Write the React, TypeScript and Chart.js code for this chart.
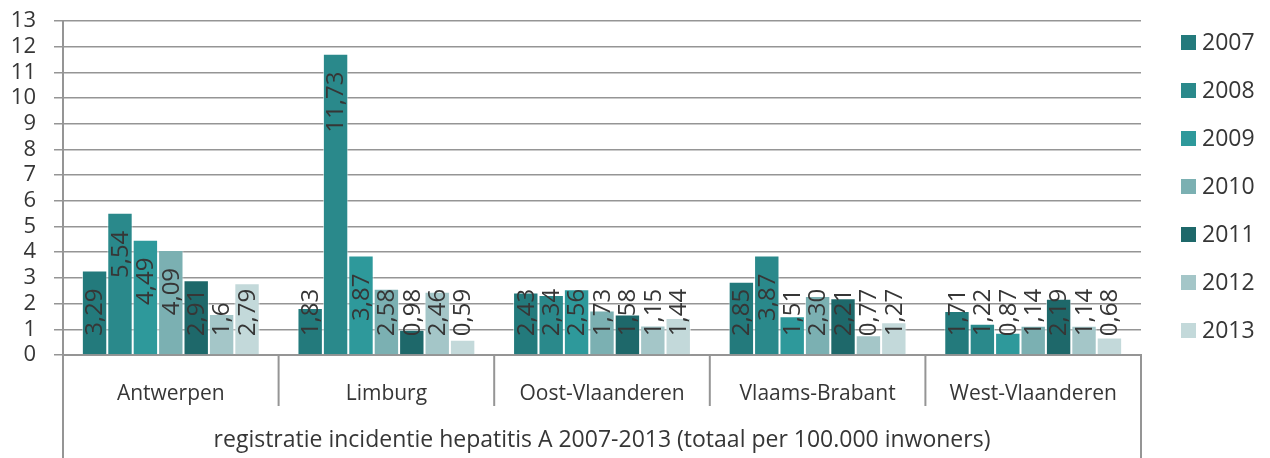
import React, { useEffect, useRef } from 'react';
import { Chart, registerables } from 'chart.js';

Chart.register(...registerables);

// ---- data ----
const provinces = ['Antwerpen', 'Limburg', 'Oost-Vlaanderen', 'Vlaams-Brabant', 'West-Vlaanderen'];
const years = ['2007', '2008', '2009', '2010', '2011', '2012', '2013'];
const v2007 = ['3,29', '1,83', '2,43', '2,85', '1,71'];
const v2008 = ['5,54', '11,73', '2,34', '3,87', '1,22'];
const v2009 = ['4,49', '3,87', '2,56', '1,51', '0,87'];
const v2010 = ['4,09', '2,58', '1,73', '2,30', '1,14'];
const v2011 = ['2,91', '0,98', '1,58', '2,21', '2,19'];
const v2012 = ['1,6', '2,46', '1,15', '0,77', '1,14'];
const v2013 = ['2,79', '0,59', '1,44', '1,27', '0,68'];
const seriesValues = [v2007, v2008, v2009, v2010, v2011, v2012, v2013];
const yMin = 0;
const yMax = 13;
const yStep = 1;
const axisTitle = 'registratie incidentie hepatitis A 2007-2013 (totaal per 100.000 inwoners)';
const seriesColors = ['#237a7c', '#2a898b', '#2e999b', '#7bb0b2', '#1e686a', '#a4c6c8', '#c3d9da'];

const FONT = '"Open Sans", "DejaVu Sans", sans-serif';
const TEXT = '#363636';
const GRID = '#959595';

const parseNL = (s: string) => parseFloat(s.replace(',', '.'));

const valueLabelPlugin = {
  id: 'valueLabels',
  afterDatasetsDraw(chart: any) {
    const ctx = chart.ctx;
    ctx.save();
    ctx.font = `24px ${FONT}`;
    ctx.fillStyle = TEXT;
    ctx.textAlign = 'left';
    ctx.textBaseline = 'middle';
    chart.data.datasets.forEach((ds: any, di: number) => {
      const meta = chart.getDatasetMeta(di);
      meta.data.forEach((el: any, i: number) => {
        const txt = ds.valueText[i];
        const len = ctx.measureText(txt).width;
        const top = el.y + 18;
        let bottom = top + len;
        const maxBottom = el.base - 18;
        if (bottom > maxBottom) bottom = maxBottom;
        ctx.save();
        ctx.translate(el.x + 1, bottom);
        ctx.rotate(-Math.PI / 2);
        ctx.fillText(txt, 0, 0);
        ctx.restore();
      });
    });
    ctx.restore();
  },
};

const separatorPlugin = {
  id: 'separators',
  afterDraw(chart: any) {
    const ctx = chart.ctx;
    const xs = chart.scales.x;
    const n = chart.data.labels.length;
    ctx.save();
    ctx.strokeStyle = GRID;
    ctx.lineWidth = 2;
    for (let i = 0; i <= n; i++) {
      let x: number;
      let y2: number;
      if (i === 0) {
        x = chart.chartArea.left;
        y2 = chart.height;
      } else if (i === n) {
        x = chart.chartArea.right;
        y2 = chart.height;
      } else {
        x = (xs.getPixelForTick(i - 1) + xs.getPixelForTick(i)) / 2;
        y2 = xs.top + 51;
      }
      ctx.beginPath();
      ctx.moveTo(x, xs.top);
      ctx.lineTo(x, y2);
      ctx.stroke();
    }
    ctx.restore();
  },
};

const legendPlugin = {
  id: 'customLegend',
  afterDraw(chart: any) {
    const ctx = chart.ctx;
    ctx.save();
    ctx.font = `23px ${FONT}`;
    ctx.textBaseline = 'middle';
    ctx.textAlign = 'left';
    chart.data.datasets.forEach((ds: any, i: number) => {
      const cy = 42.5 + i * 48;
      ctx.fillStyle = ds.backgroundColor;
      ctx.fillRect(1181, cy - 7.5, 15, 15);
      ctx.fillStyle = TEXT;
      ctx.fillText(ds.label, 1202, cy + 1);
    });
    ctx.restore();
  },
};

export default function App() {
  const ref = useRef<HTMLCanvasElement | null>(null);
  useEffect(() => {
    let chart: any = null;
    let cancelled = false;
    const make = () => {
      if (cancelled || !ref.current) return;
      chart = new Chart(ref.current, {
        type: 'bar',
        data: {
          labels: provinces,
          datasets: years.map((y, i) => ({
            label: y,
            data: seriesValues[i].map(parseNL),
            valueText: seriesValues[i],
            backgroundColor: seriesColors[i],
            borderColor: 'rgba(255,255,255,0.6)',
            borderWidth: 1,
            borderSkipped: 'bottom',
            categoryPercentage: 0.825,
            barPercentage: 1,
          })) as any,
        },
        options: {
          responsive: false,
          animation: false,
          layout: { padding: { left: 0, right: 129, top: 21, bottom: 0 } },
          plugins: { legend: { display: false }, tooltip: { enabled: false } },
          scales: {
            x: {
              grid: { display: false },
              border: { display: true, color: GRID, width: 2 },
              ticks: { font: { family: FONT, size: 21 }, color: TEXT, padding: 18, maxRotation: 0 },
              title: {
                display: true,
                text: axisTitle,
                font: { family: FONT, size: 23 },
                color: TEXT,
                padding: { top: 0, bottom: 4 },
              },
              afterFit: (s: any) => {
                s.height = 103;
                s.paddingLeft = 0;
                s.paddingRight = 0;
              },
            },
            y: {
              min: yMin,
              max: yMax,
              ticks: { stepSize: yStep, autoSkip: false, font: { family: FONT, size: 22 }, color: TEXT, padding: 18 },
              grid: { color: GRID, lineWidth: 1.5, tickLength: 9 },
              border: { display: true, color: GRID, width: 2 },
              afterFit: (s: any) => {
                s.width = 63;
                s.paddingTop = 0;
                s.paddingBottom = 0;
              },
            },
          },
        },
        plugins: [valueLabelPlugin, separatorPlugin, legendPlugin],
      } as any);
    };
    const fonts: any = (document as any).fonts;
    if (fonts && fonts.load) {
      Promise.all([fonts.load(`20px "Open Sans"`), fonts.load(`22px "Open Sans"`)]).then(make, make);
    } else {
      make();
    }
    return () => {
      cancelled = true;
      if (chart) chart.destroy();
    };
  }, []);
  return (
    <div style={{ position: 'absolute', left: 0, top: 0, width: 1270, height: 458, background: '#fff' }}>
      <canvas ref={ref} width={1270} height={458} style={{ display: 'block' }} />
    </div>
  );
}
